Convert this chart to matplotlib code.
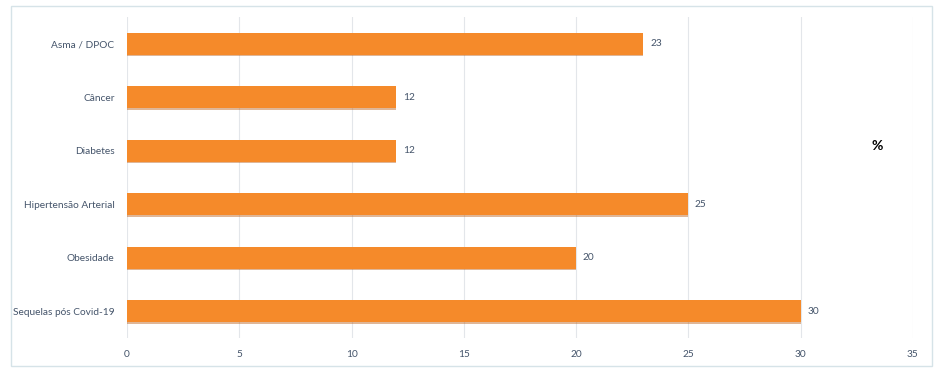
import matplotlib.pyplot as plt
from matplotlib.patches import Rectangle

# Dados (de cima para baixo)
categorias = ["Asma / DPOC", "Câncer", "Diabetes", "Hipertensão Arterial", "Obesidade", "Sequelas pós Covid-19"]
valores = [23, 12, 12, 25, 20, 30]
ticks_x = [0, 5, 10, 15, 20, 25, 30, 35]

cor_texto = "#44546A"
cor_barra = "#F58A2A"
cor_sombra = "#B85E1A"

plt.rcParams["font.family"] = ["Lato", "DejaVu Sans"]

fig = plt.figure(figsize=(9.41, 3.73), dpi=100)
ax = fig.add_axes([0.135, 0.094, 0.835, 0.86])

pos = list(range(len(categorias)))[::-1]
# sombra leve abaixo de cada barra
ax.barh([p - 0.03 for p in pos], valores, height=0.41, color=cor_sombra, alpha=0.45, zorder=2)
ax.barh(pos, valores, height=0.41, color=cor_barra, zorder=3)

for p, v in zip(pos, valores):
    ax.text(v + 0.3, p, str(v), va="center", ha="left", fontsize=7.3, color=cor_texto)

ax.set_xlim(0, 35)
ax.set_ylim(-0.5, len(categorias) - 0.5)
ax.set_xticks(ticks_x)
ax.set_yticks(pos)
ax.set_yticklabels(categorias)
ax.tick_params(axis="both", length=0, labelsize=7.3, labelcolor=cor_texto)
ax.tick_params(axis="x", pad=9)
ax.tick_params(axis="y", pad=9)
ax.grid(axis="x", color="#E3E6EA", linewidth=0.8, zorder=0)
ax.set_axisbelow(True)
for s in ax.spines.values():
    s.set_visible(False)

fig.text(877 / 941, 1 - 146 / 373, "%", ha="center", va="center", fontsize=10, fontweight="bold", color="black")

# moldura externa do gráfico
fig.patches.append(Rectangle((11 / 941, 1 - 366 / 373), 921 / 941, 360 / 373,
                             transform=fig.transFigure, fill=False, edgecolor="#D6E3E8", linewidth=1))

fig.savefig("out.png", dpi=100)
